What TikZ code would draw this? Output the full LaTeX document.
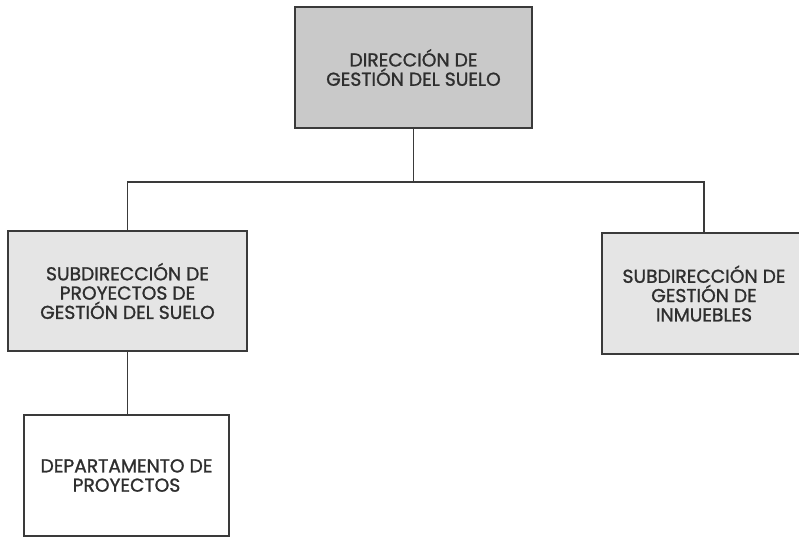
\documentclass[tikz,border=0pt]{standalone}
\usepackage{fontspec}
\setmainfont{Poppins}[FakeBold=1.2,BoldFont={Poppins},BoldFeatures={FakeBold=1.2}]
\begin{document}
\begin{tikzpicture}[x=1pt,y=-1pt,
  box/.style={draw=boxline,line width=1.3pt,rectangle,inner sep=0pt,align=center,
    font=\fontsize{18.7}{19.3}\selectfont\bfseries,text=txt},
  conn/.style={draw=boxline,line width=1.4pt}]
\definecolor{boxline}{HTML}{3A3A3A}
\definecolor{txt}{HTML}{2E2E2E}
\definecolor{darkfill}{HTML}{C9C9C9}
\definecolor{lightfill}{HTML}{E5E5E5}
\useasboundingbox[fill=white] (0,0) rectangle (799,539);
\node[box,fill=darkfill,minimum width=237pt,minimum height=121pt] (top) at (413.5,67.5) {DIRECCIÓN DE\\GESTIÓN DEL SUELO};
\node[box,fill=lightfill,minimum width=239pt,minimum height=120pt] (left) at (127.5,291) {SUBDIRECCIÓN DE\\PROYECTOS DE\\GESTIÓN DEL SUELO};
\node[box,fill=lightfill,minimum width=204pt,minimum height=121pt] (right) at (704,293.5) {SUBDIRECCIÓN DE\\GESTIÓN DE\\INMUEBLES};
\node[box,fill=white,minimum width=205pt,minimum height=121pt] (dept) at (126.5,475.5) {DEPARTAMENTO DE\\PROYECTOS};
\coordinate (bus) at (413.5,182);
\draw[conn] (top.south) -- (bus);
\draw[conn] (left.north) -- (left.north |- bus) -- (right.north |- bus) -- (right.north);
\draw[conn] (left.south) -- (left.south |- dept.north);
\end{tikzpicture}
\end{document}
